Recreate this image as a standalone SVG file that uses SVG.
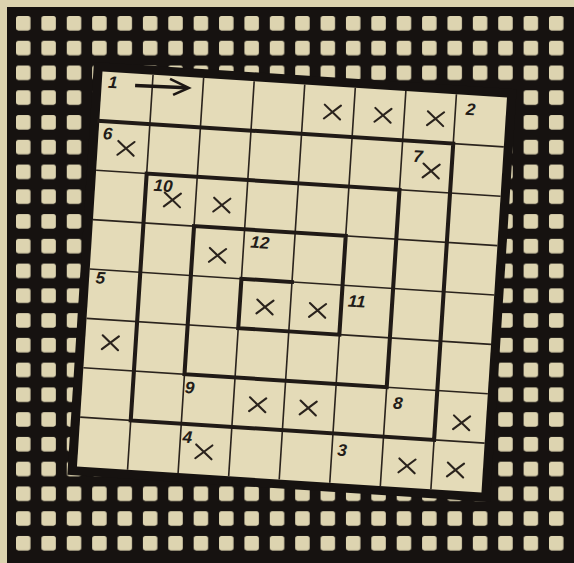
<svg xmlns="http://www.w3.org/2000/svg" width="574" height="563" viewBox="0 0 574 563">
<style>
.thin{stroke:#2a231d;stroke-width:1.6;fill:none}
.thick{stroke:#201a16;stroke-width:4;fill:none;stroke-linejoin:miter;stroke-linecap:square}
.x{stroke:#2a231d;stroke-width:2.1;fill:none;stroke-linecap:round}
.lbl{font-family:"Liberation Sans","DejaVu Sans",sans-serif;font-size:17px;font-style:italic;font-weight:bold;fill:#221c18;text-anchor:middle}
</style>
<defs>
<pattern id="holes" patternUnits="userSpaceOnUse" x="16" y="16" width="25.38" height="24.76">
<rect x="0" y="0" width="14.5" height="14.5" rx="2.5" fill="#ddd4b0"/>
</pattern>
<g id="xm"><path class="x" d="M-8,-7 L8,7 M-8,7 L8,-7"/></g>
</defs>
<rect x="0" y="0" width="574" height="563" fill="#dcd3af"/>
<g id="grille">
<rect x="7" y="7" width="567" height="556" fill="#161210"/>
<rect x="16" y="16" width="548" height="535" fill="url(#holes)"/>
</g>
<g id="sheet" transform="matrix(1.0112 0.065 -0.0638 0.9875 102.5 71.5)">
<rect x="-9" y="-9" width="418" height="418" fill="#161210"/>
<rect x="0" y="0" width="400" height="400" fill="#e4dbb8"/>
<g id="grid" class="thin">
<path d="M50,0V400 M100,0V400 M150,0V400 M200,0V400 M250,0V400 M300,0V400 M350,0V400"/>
<path d="M0,50H400 M0,100H400 M0,150H400 M0,200H400 M0,250H400 M0,300H400 M0,350H400"/>
</g>
<g id="connectors">
<path class="thick" d="M200,200 L150,200 L150,250 L250,250 L250,150 L100,150 L100,300 L300,300 L300,100 L50,100 L50,350 L350,350 L350,50 L0,50"/>
<path d="M33,12 L84,11" stroke="#1c1613" stroke-width="3.6" fill="none"/>
<path d="M67,3 L86,11 L71,19" stroke="#1c1613" stroke-width="2.6" fill="none" stroke-linejoin="miter"/>
</g>
<g id="marks">
<use href="#xm" x="229" y="26"/>
<use href="#xm" x="279" y="26"/>
<use href="#xm" x="331" y="26"/>
<use href="#xm" x="28" y="76"/>
<use href="#xm" x="330" y="79"/>
<use href="#xm" x="77" y="125"/>
<use href="#xm" x="126" y="127"/>
<use href="#xm" x="125" y="178"/>
<use href="#xm" x="175" y="227"/>
<use href="#xm" x="227" y="227"/>
<use href="#xm" x="25" y="273"/>
<use href="#xm" x="174" y="326"/>
<use href="#xm" x="224" y="326"/>
<use href="#xm" x="376" y="331"/>
<use href="#xm" x="124" y="377"/>
<use href="#xm" x="325" y="378"/>
<use href="#xm" x="373" y="379"/>
</g>
<g id="labels">
<text class="lbl" x="11" y="16">1</text>
<text class="lbl" x="365" y="20">2</text>
<text class="lbl" x="260" y="372">3</text>
<text class="lbl" x="107" y="369">4</text>
<text class="lbl" x="11" y="214">5</text>
<text class="lbl" x="9" y="68">6</text>
<text class="lbl" x="316" y="71">7</text>
<text class="lbl" x="312" y="321">8</text>
<text class="lbl" x="106" y="319">9</text>
<text class="lbl" x="67" y="117">10</text>
<text class="lbl" x="265" y="221">11</text>
<text class="lbl" x="166" y="168">12</text>
</g>
</g>
</svg>
